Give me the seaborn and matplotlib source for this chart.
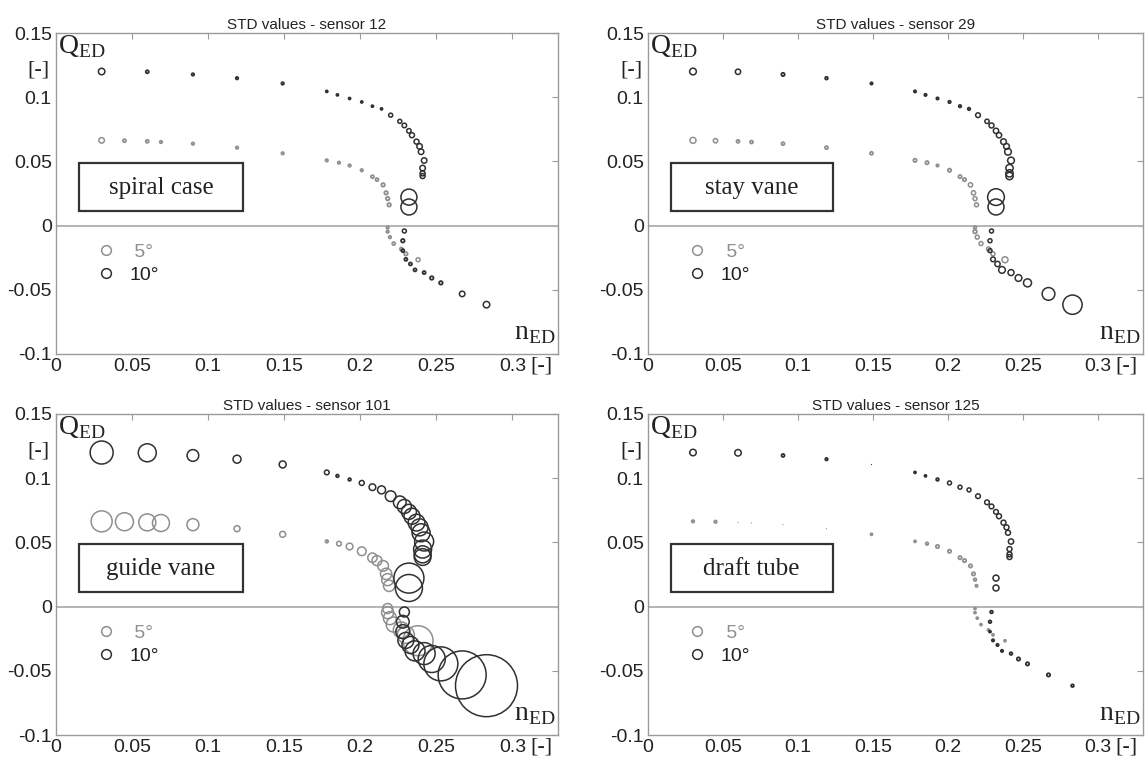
import matplotlib
matplotlib.use("Agg")
import matplotlib.pyplot as plt
from matplotlib.lines import Line2D
from matplotlib.patches import Rectangle
import numpy as np
import seaborn as sns

# ---------------------------------------------------------
# DATA
# ---------------------------------------------------------
# operating points, 10 deg guide vane opening
n_10 = [0.030, 0.060, 0.090, 0.119, 0.149, 0.178, 0.185, 0.193, 0.201, 0.208,
        0.214, 0.220, 0.226, 0.229, 0.232, 0.234, 0.237, 0.239, 0.240, 0.242,
        0.241, 0.241, 0.241, 0.232, 0.232, 0.229, 0.228, 0.228, 0.230, 0.233,
        0.236, 0.242, 0.247, 0.253, 0.267, 0.283]
q_10 = [0.1200, 0.1198, 0.1177, 0.1148, 0.1107, 0.1045, 0.1018, 0.0990, 0.0963, 0.0930,
        0.0909, 0.0860, 0.0812, 0.0780, 0.0738, 0.0704, 0.0654, 0.0617, 0.0575, 0.0507,
        0.0448, 0.0407, 0.0386, 0.0222, 0.0145, -0.0042, -0.0118, -0.0195, -0.0263, -0.0299,
        -0.0345, -0.0366, -0.0408, -0.0446, -0.0532, -0.0616]

# operating points, 5 deg guide vane opening
n_5 = [0.030, 0.045, 0.060, 0.069, 0.090, 0.119, 0.149, 0.178, 0.186, 0.193,
       0.201, 0.208, 0.211, 0.215, 0.217, 0.218, 0.219, 0.218, 0.218, 0.2195,
       0.222, 0.227, 0.230, 0.238]
q_5 = [0.0664, 0.0661, 0.0656, 0.0651, 0.0638, 0.0607, 0.0563, 0.0508, 0.0490, 0.0468,
       0.0431, 0.0381, 0.0358, 0.0317, 0.0255, 0.0210, 0.0162, -0.0015, -0.0047, -0.0090,
       -0.0140, -0.0182, -0.0220, -0.0266]

# STD values per sensor (relative units, read from circle diameters)
std10_spiral = [6.5, 3, 2.5, 2.5, 2.5, 2, 2, 2, 2, 2, 2, 4, 4, 4.5, 4.5, 5, 5, 5.5,
                5.5, 5.5, 5.5, 5, 5, 16, 16, 4, 3.5, 3, 3, 3, 3, 3, 3.5, 3.5, 5.5, 6.5]
std5_spiral = [5.5, 3, 3, 2.5, 2.5, 2.5, 2.5, 2.5, 2.5, 2.5, 2.5, 3, 3, 3.5, 3.5, 3.5,
               3.5, 2.5, 2.5, 2.5, 3, 3, 3.5, 4]

std10_stay = [6.7, 5.3, 3.3, 2.7, 2.3, 2.3, 2.3, 2.3, 2.5, 2.5, 2.5, 4.7, 4.3, 5, 5.3, 5.3,
              5.7, 5.7, 6.7, 6.7, 7.3, 7.3, 7.3, 16.7, 16, 4, 4, 4, 4.7, 5.3, 6.7, 6, 6.7,
              8, 12.7, 19.3]
std5_stay = [6, 4.3, 3, 3, 3, 3, 3, 3.3, 3.3, 2.3, 3.3, 3.3, 3.3, 4.3, 4.3, 4, 4, 2.7,
             3.7, 4, 4, 4, 4, 6]

std10_guide = [23, 18, 11.7, 8, 7, 4.7, 2.7, 2.7, 5, 6.7, 8, 10.7, 12.7, 14, 15, 16, 16.7,
               17, 18, 19, 18, 17, 16.7, 30, 27, 10, 12.7, 14, 16, 17, 20, 22, 27, 34, 48, 62]
std5_guide = [21, 18, 17, 17, 12, 6, 6, 2.7, 4.7, 6.7, 8.7, 9.3, 10, 10.7, 11.3, 12, 11.3,
              10, 12, 13, 15, 16, 17, 30]

std10_draft = [6.5, 6.5, 3, 2.5, 0.6, 2, 2, 2.7, 4, 4, 4, 4.7, 4.7, 4.7, 4.7, 5, 5, 5, 5,
               5.3, 5, 5, 5, 6, 6, 2.7, 2.7, 2, 2.3, 2.3, 2.3, 2.7, 3.3, 3.3, 3.3, 2.7]
std5_draft = [2.5, 2.5, 0.6, 0.6, 0.6, 0.6, 2, 2, 2.7, 3.3, 3.3, 3.3, 3.3, 3.3, 3.3, 2.7,
              2.3, 2, 2, 2, 2, 2, 2, 2]

sensors = [12, 29, 101, 125]
locations = ["spiral case", "stay vane", "guide vane", "draft tube"]
std10 = [std10_spiral, std10_stay, std10_guide, std10_draft]
std5 = [std5_spiral, std5_stay, std5_guide, std5_draft]

x_ticks = [0, 0.05, 0.1, 0.15, 0.2, 0.25, 0.3]
x_tick_labels = ["0", "0.05", "0.1", "0.15", "0.2", "0.25", "0.3"]
y_ticks = [-0.1, -0.05, 0, 0.05, 0.1, 0.15]
y_tick_labels = ["-0.1", "-0.05", "0", "0.05", "0.1", "0.15"]

# ---------------------------------------------------------
# STYLE
# ---------------------------------------------------------
sns.set_style("white")
plt.rcParams["font.family"] = ["Liberation Sans", "DejaVu Sans"]
plt.rcParams["mathtext.fontset"] = "custom"
plt.rcParams["mathtext.rm"] = "Liberation Serif"
plt.rcParams["axes.unicode_minus"] = False

GRAY = "#8f8f8f"
DARK = "#303030"
SPINE = "#9a9a9a"
SERIF = ["Liberation Serif", "DejaVu Serif"]

W, H = 1145, 760
fig = plt.figure(figsize=(W / 100, H / 100), dpi=100)

# axes boxes in pixels: left, top, width
boxes = [(56, 33, 502), (648, 33, 495), (56, 414, 502), (648, 414, 495)]
ax_h = 321


def marker_area(std):
    d = np.asarray(std) * 0.72          # diameter px -> points
    return d ** 2


def marker_lw(std):
    # small markers get a thick edge so they read as filled dots
    s = np.asarray(std)
    lw = np.where(s < 4, 1.3, 1.1)
    return np.where(s < 1, 0.4, lw)


for i, (sensor, loc) in enumerate(zip(sensors, locations)):
    left, top, width = boxes[i]
    ax = fig.add_axes([left / W, 1 - (top + ax_h) / H, width / W, ax_h / H])

    ax.axhline(0, color="#b4b4b4", lw=1.4, zorder=1)

    sns.scatterplot(x=n_5, y=q_5, s=marker_area(std5[i]), color=GRAY,
                    facecolor="none", edgecolor=GRAY, linewidth=marker_lw(std5[i]),
                    ax=ax, zorder=3)
    sns.scatterplot(x=n_10, y=q_10, s=marker_area(std10[i]), color=DARK,
                    facecolor="none", edgecolor=DARK, linewidth=marker_lw(std10[i]),
                    ax=ax, zorder=4)

    ax.set_xlim(0, 0.33)
    ax.set_ylim(-0.1, 0.15)
    ax.set_xticks(x_ticks)
    ax.set_xticklabels(x_tick_labels)
    ax.set_yticks(y_ticks)
    ax.set_yticklabels(y_tick_labels)
    ax.tick_params(direction="in", length=4, width=0.8, color=SPINE,
                   top=True, right=True, labelsize=14, labelcolor="#222222", pad=3)
    for sp in ax.spines.values():
        sp.set_color(SPINE)
        sp.set_linewidth(1.0)
    ax.set_xlabel("")
    ax.set_ylabel("")

    ax.set_title(f"STD values - sensor {sensor}", fontsize=11, color="#222222", pad=3)

    # axis names in the MATLAB-like corner positions
    ax.text(0.001, 0.1495, r"$\mathrm{Q}_{\mathrm{ED}}$", fontsize=20, color="#222222",
            ha="left", va="top")
    ax.text(-0.004, 0.1215, "[-]", fontsize=16, family=SERIF, color="#222222",
            ha="right", va="center")
    ax.text(0.328, -0.094, r"$\mathrm{n}_{\mathrm{ED}}$", fontsize=20, color="#222222",
            ha="right", va="bottom")
    ax.annotate("[-]", xy=(0.319, -0.1), xytext=(0, -2), textcoords="offset points",
                fontsize=16, family=SERIF, color="#222222", ha="center", va="top",
                annotation_clip=False)

    # location label box
    ax.add_patch(Rectangle((0.015, 0.011), 0.108, 0.038, fill=False,
                           edgecolor="#333333", lw=1.6, zorder=5))
    ax.text(0.069, 0.0295, loc, fontsize=18, family=SERIF, color="#222222",
            ha="center", va="center", zorder=6)

    handles = [Line2D([], [], ls="none", marker="o", markersize=7, mfc="none",
                      mec=GRAY, mew=1.1),
               Line2D([], [], ls="none", marker="o", markersize=7, mfc="none",
                      mec=DARK, mew=1.1)]
    leg = ax.legend(handles, [" 5°", "10°"], loc="upper left",
                    bbox_to_anchor=(0.02, -0.006), bbox_transform=ax.transData,
                    frameon=False, fontsize=14, handlelength=1.0, handletextpad=0.7,
                    labelspacing=0.3, borderpad=0.0)
    leg.get_texts()[0].set_color(GRAY)
    leg.get_texts()[1].set_color("#222222")

fig.savefig("out.png", dpi=100)
